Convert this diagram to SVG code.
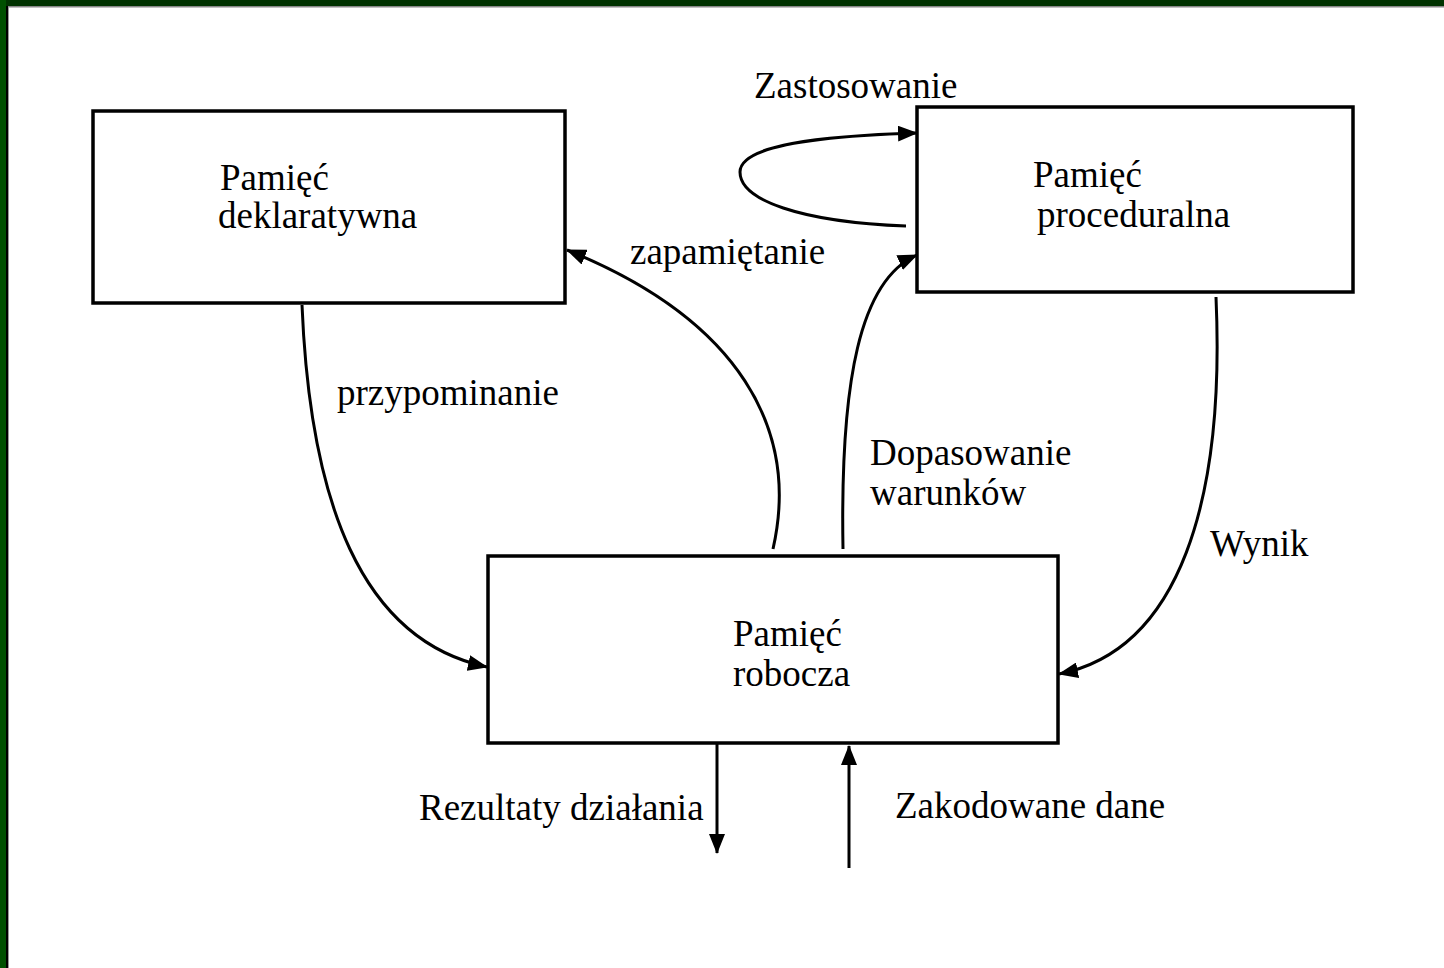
<svg xmlns="http://www.w3.org/2000/svg" width="1444" height="968" viewBox="0 0 1444 968">
<style>
.box{fill:#fff;stroke:#000;stroke-width:3.5}
.t{font-family:"Liberation Serif","Times New Roman",serif;font-size:37px;fill:#000}
.c{fill:none;stroke:#000;stroke-width:3}
</style>
<defs>
<marker id="ah" markerUnits="userSpaceOnUse" markerWidth="20" markerHeight="16" viewBox="0 0 20 16" refX="19" refY="8" orient="auto">
<path d="M0,0 L20,8 L0,16 Z" fill="#000"/>
</marker>
</defs>
<rect x="0" y="0" width="1444" height="968" fill="#fff"/>
<rect x="0" y="0" width="1444" height="6" fill="#003300"/>
<rect x="0" y="6" width="1444" height="1.5" fill="#888"/>
<rect x="0" y="0" width="6" height="968" fill="#005000"/>
<rect x="6" y="6" width="2" height="962" fill="#000"/>
<rect x="8" y="7" width="1" height="961" fill="#999"/>
<g id="connectors">
<path class="c" d="M302,305 C310,500 360,640 487,667" marker-end="url(#ah)"/>
<path class="c" d="M773,549 C800,430 740,320 567,250" marker-end="url(#ah)"/>
<path class="c" d="M843,549 C840,380 860,280 917,255" marker-end="url(#ah)"/>
<path class="c" d="M1216,297 C1225,500 1180,650 1059,674" marker-end="url(#ah)"/>
<path class="c" d="M906,226 C800,222 740,200 740,172 C740,145 820,136 917,133" marker-end="url(#ah)"/>
<path class="c" d="M717,743 L717,853" marker-end="url(#ah)"/>
<path class="c" d="M849,868 L849,746" marker-end="url(#ah)"/>
</g>
<g id="deklaratywna">
<rect class="box" x="93" y="111" width="472" height="192"/>
<text class="t" x="220" y="190">Pamięć</text>
<text class="t" x="218" y="228">deklaratywna</text>
</g>
<g id="proceduralna">
<rect class="box" x="917" y="107" width="436" height="185"/>
<text class="t" x="1033" y="187">Pamięć</text>
<text class="t" x="1037" y="227">proceduralna</text>
</g>
<g id="robocza">
<rect class="box" x="488" y="556" width="570" height="187"/>
<text class="t" x="733" y="646">Pamięć</text>
<text class="t" x="733" y="686">robocza</text>
</g>
<g id="labels">
<text class="t" x="754" y="98">Zastosowanie</text>
<text class="t" x="630" y="264">zapamiętanie</text>
<text class="t" x="337" y="405">przypominanie</text>
<text class="t" x="870" y="465">Dopasowanie</text>
<text class="t" x="870" y="505">warunków</text>
<text class="t" x="1210" y="556">Wynik</text>
<text class="t" x="419" y="820">Rezultaty działania</text>
<text class="t" x="895" y="818">Zakodowane dane</text>
</g>
</svg>
